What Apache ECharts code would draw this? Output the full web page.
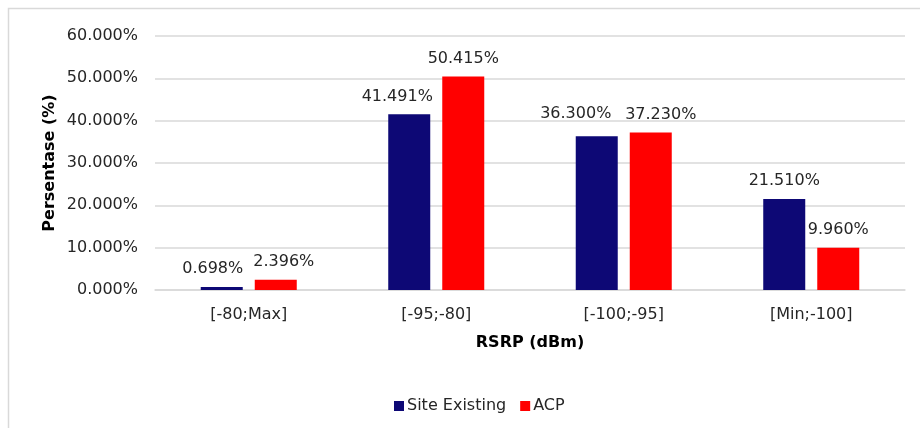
<!DOCTYPE html>
<html>
<head>
<meta charset="utf-8">
<script src="https://cdn.jsdelivr.net/npm/echarts@6/dist/echarts.min.js"></script>
<style>
html,body{margin:0;padding:0;background:#fff;}
#main{width:920px;height:428px;}
</style>
</head>
<body>
<div id="main"></div>
<script>
// ---- data ----
const categories = ['[-80;Max]', '[-95;-80]', '[-100;-95]', '[Min;-100]'];
const siteExisting = [0.698, 41.491, 36.300, 21.510];
const acp = [2.396, 50.415, 37.230, 9.960];
const seriesNames = ['Site Existing', 'ACP'];
const yTicks = { min: 0, max: 60, interval: 10 };

// label nudges (layout only, mimic the reference's label placement)
const nudgeSite = [[-9, 0], [-12, 0], [-21, -4], [0, 0]];
const nudgeAcp = [[8, 0], [0, 0], [10, 0], [0, 0]];

const FONT = 'DejaVu Sans';
const TXT = '#262626';
const GRID = '#d9d9d9';
const FS = 16;

function build(values, nudges) {
  return values.map((v, i) => ({ value: v, label: { offset: nudges[i] } }));
}

const chart = echarts.init(document.getElementById('main'), null, { renderer: 'canvas' });
chart.setOption({
  animation: false,
  backgroundColor: '#fff',
  textStyle: { fontFamily: FONT },
  graphic: [{
    type: 'rect',
    shape: { x: 8.5, y: 8.5, width: 940, height: 440 },
    style: { fill: 'none', stroke: GRID, lineWidth: 1.5 },
    silent: true, z: -1
  }],
  grid: { left: 155, right: 15, top: 36, bottom: 138, containLabel: false },
  legend: {
    data: seriesNames,
    left: 389, top: 393,
    itemWidth: 10, itemHeight: 10, itemGap: 14,
    icon: 'rect',
    textStyle: { fontFamily: FONT, fontSize: FS, color: TXT, padding: [0, 0, 0, -2] }
  },
  xAxis: {
    type: 'category',
    data: categories,
    axisLine: { show: true, lineStyle: { color: GRID, width: 1.5 } },
    axisTick: { show: false },
    axisLabel: { fontFamily: FONT, fontSize: FS, color: TXT, margin: 17 },
    name: 'RSRP (dBm)',
    nameLocation: 'middle',
    nameGap: 45,
    nameTextStyle: { fontFamily: FONT, fontSize: FS, fontWeight: 'bold', color: '#000' }
  },
  yAxis: {
    type: 'value',
    min: yTicks.min, max: yTicks.max, interval: yTicks.interval,
    axisLine: { show: false },
    axisTick: { show: false },
    splitLine: { lineStyle: { color: GRID, width: 1.5 } },
    axisLabel: {
      fontFamily: FONT, fontSize: FS, color: TXT, margin: 17,
      formatter: v => v.toFixed(3) + '%'
    },
    name: 'Persentase (%)',
    nameLocation: 'middle',
    nameMoveOverlap: false,
    nameGap: 97,
    nameTextStyle: { fontFamily: FONT, fontSize: FS, fontWeight: 'bold', color: '#000' }
  },
  series: [
    {
      name: seriesNames[0], type: 'bar',
      data: build(siteExisting, nudgeSite),
      barWidth: 42, barGap: '28.6%',
      itemStyle: { color: '#0d0875' },
      label: {
        show: true, position: 'top', distance: 10,
        fontFamily: FONT, fontSize: FS, color: TXT,
        formatter: p => p.value.toFixed(3) + '%'
      }
    },
    {
      name: seriesNames[1], type: 'bar',
      data: build(acp, nudgeAcp),
      barWidth: 42, barGap: '28.6%',
      itemStyle: { color: '#ff0000' },
      label: {
        show: true, position: 'top', distance: 10,
        fontFamily: FONT, fontSize: FS, color: TXT,
        formatter: p => p.value.toFixed(3) + '%'
      }
    }
  ]
});
</script>
</body>
</html>
